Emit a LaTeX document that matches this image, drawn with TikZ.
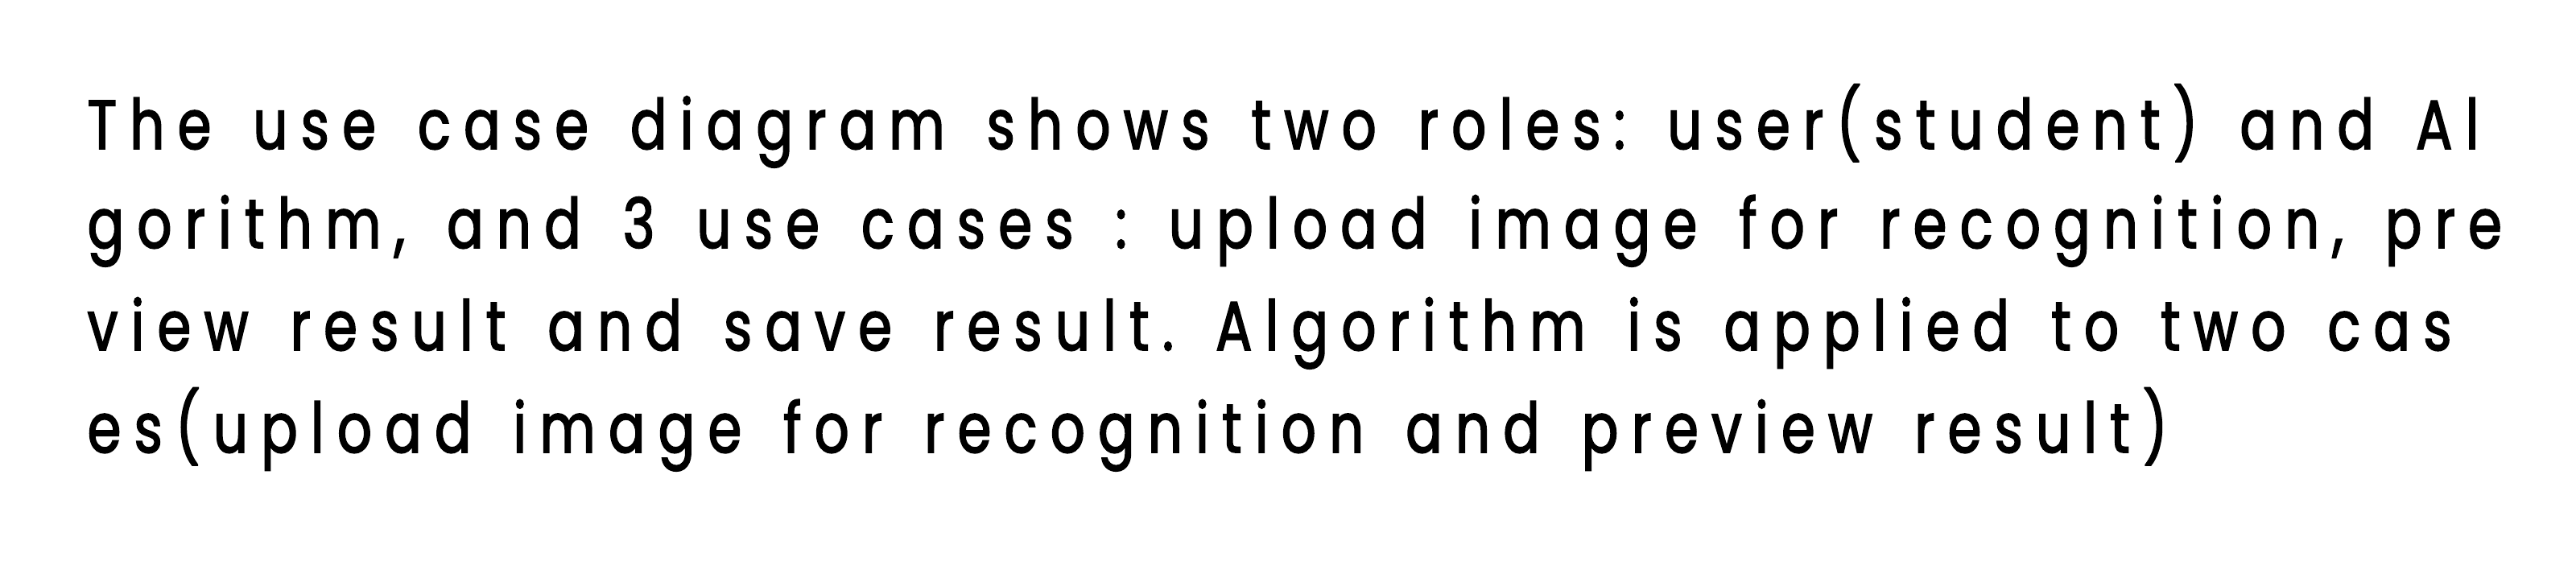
\documentclass[tikz,border=0pt]{standalone}
\usepackage{fontspec}
\setmainfont{Poppins}[LetterSpace=19,FakeStretch=0.78,FakeBold=2,WordSpace=1.52]
\frenchspacing
\begin{document}
\begin{tikzpicture}[txt/.style={anchor=base west,inner sep=0pt,font=\fontsize{24.5pt}{30pt}\selectfont,text=black}]
\useasboundingbox[fill=white] (0,0) rectangle (32,7.12);
\node[txt] (l1) at (1.08,5.27) {The use case diagram shows two roles: user(student) and Al};
\node[txt] (l2) at (1.08,4.04) {gorithm, and 3 use cases : upload image for recognition, pre};
\node[txt] (l3) at (1.08,2.77) {view result and save result. Algorithm is applied to two cas};
\node[txt] (l4) at (1.08,1.50) {es(upload image for recognition and preview result)};
\end{tikzpicture}
\end{document}
